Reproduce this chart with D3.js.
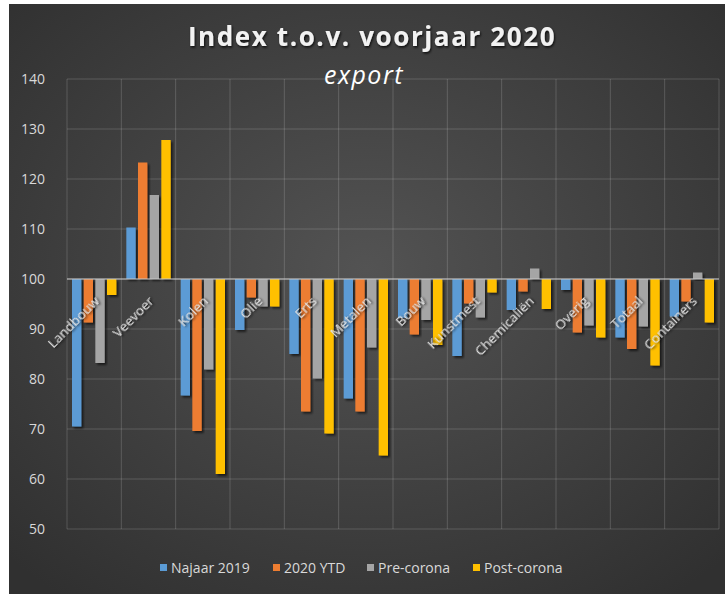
<!DOCTYPE html>
<html>
<head>
<meta charset="utf-8">
<script src="https://cdn.jsdelivr.net/npm/d3@7"></script>
<style>
  html, body { margin: 0; padding: 0; background: #fff; }
  svg { display: block; }
</style>
</head>
<body>
<svg id="chart" width="725" height="594"></svg>
<script>
// data
let categories = ['Landbouw', 'Veevoer', 'Kolen', 'Olie', 'Erts', 'Metalen', 'Bouw',
  'Kunstmest', 'Chemicaliën', 'Overig', 'Totaal', 'Containers'];
let seriesNames = ['Najaar 2019', '2020 YTD', 'Pre-corona', 'Post-corona'];
let najaar2019 = [70.5, 110.3, 76.7, 89.8, 85.0, 76.1, 92.2, 84.6, 93.8, 97.8, 88.3, 92.5];
let ytd2020 = [91.3, 123.3, 69.6, 96.3, 73.5, 73.5, 88.9, 95.1, 97.5, 89.3, 86.0, 95.5];
let preCorona = [83.2, 116.8, 81.9, 94.5, 80.1, 86.3, 91.8, 92.3, 102.1, 90.7, 90.5, 101.3];
let postCorona = [96.8, 127.8, 61.0, 94.5, 69.1, 64.7, 86.8, 97.3, 94.0, 88.3, 82.7, 91.3];
let yTicks = [50, 60, 70, 80, 90, 100, 110, 120, 130, 140];
let colors = ['#5b9bd5', '#ed7d31', '#a5a5a5', '#ffc000'];

let allSeries = [najaar2019, ytd2020, preCorona, postCorona];

let svg = d3.select('#chart');
let defs = svg.append('defs');

// background gradient
let grad = defs.append('radialGradient')
  .attr('id', 'bg')
  .attr('cx', '50%').attr('cy', '45%').attr('r', '70%');
grad.append('stop').attr('offset', '0%').attr('stop-color', '#535353');
grad.append('stop').attr('offset', '100%').attr('stop-color', '#303030');

let shadow = defs.append('filter').attr('id', 'shadow')
  .attr('x', '-30%').attr('y', '-30%').attr('width', '160%').attr('height', '160%');
shadow.append('feDropShadow')
  .attr('dx', 2).attr('dy', 2).attr('stdDeviation', 1.2)
  .attr('flood-color', '#000').attr('flood-opacity', 0.6);

let textShadow = defs.append('filter').attr('id', 'tshadow')
  .attr('x', '-10%').attr('y', '-30%').attr('width', '120%').attr('height', '160%');
textShadow.append('feDropShadow')
  .attr('dx', 1).attr('dy', 1.5).attr('stdDeviation', 1.2)
  .attr('flood-color', '#000').attr('flood-opacity', 0.8);

svg.append('rect')
  .attr('x', 9).attr('y', 4)
  .attr('width', 716).attr('height', 590)
  .attr('fill', 'url(#bg)');

let plot = { left: 67, right: 719, top: 79, bottom: 529 };

let x = d3.scaleBand()
  .domain(categories)
  .range([plot.left, plot.right])
  .padding(0);

let xInner = d3.scaleBand()
  .domain(d3.range(seriesNames.length))
  .range([5, x.bandwidth() - 5])
  .paddingInner(0.2);

let y = d3.scaleLinear()
  .domain([50, 140])
  .range([plot.bottom, plot.top]);

// horizontal gridlines
svg.append('g')
  .selectAll('line')
  .data(yTicks)
  .enter()
  .append('line')
    .attr('x1', plot.left)
    .attr('x2', plot.right)
    .attr('y1', d => y(d))
    .attr('y2', d => y(d))
    .attr('stroke', 'rgba(255,255,255,0.17)')
    .attr('stroke-width', 1);

// vertical gridlines at the category boundaries
let bounds = categories.map(c => x(c)).concat([plot.right]);
svg.append('g')
  .selectAll('line')
  .data(bounds)
  .enter()
  .append('line')
    .attr('x1', d => d)
    .attr('x2', d => d)
    .attr('y1', plot.top)
    .attr('y2', plot.bottom)
    .attr('stroke', 'rgba(255,255,255,0.17)')
    .attr('stroke-width', 1);

// y axis labels
svg.append('g')
  .selectAll('text')
  .data(yTicks)
  .enter()
  .append('text')
    .attr('x', 45)
    .attr('y', d => y(d))
    .attr('dy', '0.35em')
    .attr('text-anchor', 'end')
    .attr('font-family', 'Open Sans, sans-serif')
    .attr('font-size', 14)
    .attr('fill', '#d9d9d9')
    .text(d => d);

// bars
let groups = svg.append('g')
  .selectAll('g')
  .data(allSeries)
  .enter()
  .append('g')
    .attr('fill', (_, i) => colors[i]);

groups.selectAll('rect')
  .data((values, s) => values.map((v, i) => ({ cat: categories[i], v: v, s: s })))
  .enter()
  .append('rect')
    .attr('x', d => x(d.cat) + xInner(d.s))
    .attr('width', xInner.bandwidth())
    .attr('y', d => y(Math.max(d.v, 100)))
    .attr('height', d => Math.abs(y(d.v) - y(100)))
    .attr('filter', 'url(#shadow)');

// axis line at 100
svg.append('line')
  .attr('x1', plot.left)
  .attr('x2', plot.right)
  .attr('y1', y(100))
  .attr('y2', y(100))
  .attr('stroke', '#c8c8c8')
  .attr('stroke-width', 1.2);

// rotated category labels, drawn on top of the bars
svg.append('g')
  .selectAll('text')
  .data(categories)
  .enter()
  .append('text')
    .attr('transform', d => 'translate(' + (x(d) + x.bandwidth() / 2 + 6) + ',' + (y(100) + 23) + ') rotate(-45)')
    .attr('text-anchor', 'end')
    .attr('font-family', 'Open Sans, sans-serif')
    .attr('font-size', 13.5)
    .attr('fill', '#e0e0e0')
    .attr('filter', 'url(#tshadow)')
    .text(d => d);

// titles
svg.append('text')
  .attr('x', 372)
  .attr('y', 46)
  .attr('text-anchor', 'middle')
  .attr('font-family', 'Open Sans, sans-serif')
  .attr('font-weight', 'bold')
  .attr('font-size', 26)
  .attr('letter-spacing', 1.6)
  .attr('fill', '#f2f2f2')
  .attr('filter', 'url(#tshadow)')
  .text('Index t.o.v. voorjaar 2020');

svg.append('text')
  .attr('x', 364)
  .attr('y', 84)
  .attr('text-anchor', 'middle')
  .attr('font-family', 'Open Sans, sans-serif')
  .attr('font-style', 'italic')
  .attr('font-size', 25)
  .attr('letter-spacing', 1.5)
  .attr('fill', '#ffffff')
  .text('export');

// legend
let legendX = [160, 273, 367, 473];
let legend = svg.append('g')
  .selectAll('g')
  .data(seriesNames)
  .enter()
  .append('g')
    .attr('transform', (_, i) => 'translate(' + legendX[i] + ',568)');

legend.append('rect')
  .attr('x', 0).attr('y', -4)
  .attr('width', 7).attr('height', 7)
  .attr('fill', (_, i) => colors[i]);

legend.append('text')
  .attr('x', 11)
  .attr('y', 0)
  .attr('dy', '0.35em')
  .attr('font-family', 'Open Sans, sans-serif')
  .attr('font-size', 14)
  .attr('fill', '#d9d9d9')
  .text(d => d);
</script>
</body>
</html>
